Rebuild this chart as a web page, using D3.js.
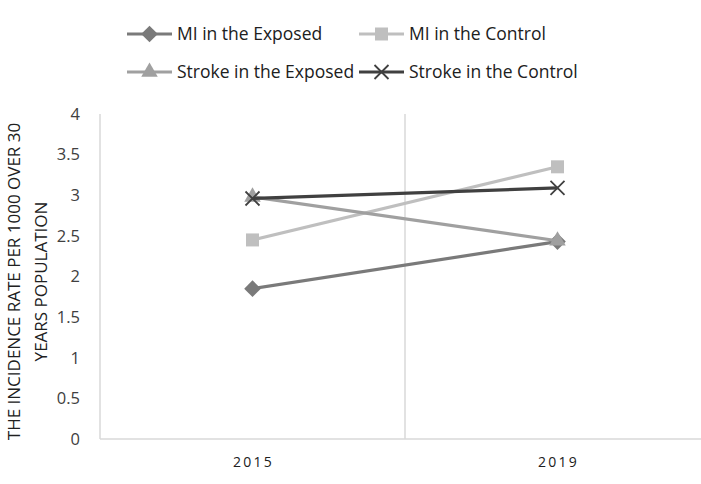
<!DOCTYPE html>
<html><head><meta charset="utf-8">
<script src="https://cdn.jsdelivr.net/npm/d3@7"></script>
<style>body{margin:0;background:#fff}svg{display:block}</style>
</head><body>
<svg id="c" width="701" height="484"></svg>
<script>
const categories = ["2015", "2019"];
const miExposed = [1.85, 2.43];
const miControl = [2.45, 3.35];
const strokeExposed = [2.98, 2.44];
const strokeControl = [2.96, 3.09];
const yTicks = [0, 0.5, 1, 1.5, 2, 2.5, 3, 3.5, 4];
const seriesNames = ["MI in the Exposed", "MI in the Control", "Stroke in the Exposed", "Stroke in the Control"];

const series = [
  {name: seriesNames[0], values: miExposed, color: "#7a7a7a", marker: "diamond"},
  {name: seriesNames[1], values: miControl, color: "#bfbfbf", marker: "square"},
  {name: seriesNames[2], values: strokeExposed, color: "#a0a0a0", marker: "triangle"},
  {name: seriesNames[3], values: strokeControl, color: "#404040", marker: "x"}
];

const svg = d3.select("#c");
const font = "'Open Sans', 'Liberation Sans', sans-serif";
const pLeft = 100, pRight = 710, pTop = 114, pBottom = 439;

const x = d3.scaleBand().domain(categories).range([pLeft, pRight]);
const y = d3.scaleLinear().domain([0, 4]).range([pBottom, pTop]);

// axes lines
svg.append("line").attr("x1", pLeft).attr("x2", 701).attr("y1", pBottom).attr("y2", pBottom)
  .attr("stroke", "#d9d9d9").attr("stroke-width", 1.5);
svg.append("line").attr("x1", pLeft).attr("x2", pLeft).attr("y1", pTop).attr("y2", pBottom)
  .attr("stroke", "#d9d9d9").attr("stroke-width", 1.5);
// category separator
categories.slice(1).forEach(c => {
  svg.append("line").attr("x1", x(c)).attr("x2", x(c)).attr("y1", pTop).attr("y2", pBottom)
    .attr("stroke", "#d9d9d9").attr("stroke-width", 1.5);
});

// y tick labels
svg.append("g").selectAll("text").data(yTicks).join("text")
  .attr("x", 80).attr("y", d => y(d)).attr("dy", "0.35em")
  .attr("text-anchor", "end").attr("font-family", font).attr("font-size", 16.5)
  .attr("fill", "#404040").text(d => d3.format("")(d));

// x tick labels
svg.append("g").selectAll("text").data(categories).join("text")
  .attr("x", d => x(d) + x.bandwidth() / 2 + 1).attr("y", 467)
  .attr("text-anchor", "middle").attr("font-family", font).attr("font-size", 14)
  .attr("letter-spacing", "2.2px")
  .attr("fill", "#202020").text(d => d);

// y axis title
const yt = svg.append("text").attr("transform", `translate(0,${(pTop + pBottom) / 2 + 5}) rotate(-90)`)
  .attr("text-anchor", "middle").attr("font-family", font).attr("font-size", 17).attr("fill", "#202020");
yt.append("tspan").attr("x", 0).attr("y", 20).text("THE INCIDENCE RATE PER 1000 OVER 30");
yt.append("tspan").attr("x", 0).attr("y", 47).text("YEARS POPULATION");

function drawMarker(g, type, cx, cy, color, s) {
  if (type === "diamond") {
    g.append("path").attr("d", d3.symbol(d3.symbolDiamond2, s * s * 0.9)())
      .attr("transform", `translate(${cx},${cy})`).attr("fill", color);
  } else if (type === "square") {
    g.append("rect").attr("x", cx - s / 2).attr("y", cy - s / 2).attr("width", s).attr("height", s).attr("fill", color);
  } else if (type === "triangle") {
    g.append("path").attr("d", d3.symbol(d3.symbolTriangle, s * s * 0.6)())
      .attr("transform", `translate(${cx},${cy})`).attr("fill", color);
  } else {
    const h = s / 2;
    g.append("path").attr("d", `M${cx - h},${cy - h}L${cx + h},${cy + h}M${cx - h},${cy + h}L${cx + h},${cy - h}`)
      .attr("stroke", color).attr("stroke-width", 1.8).attr("fill", "none");
  }
}

const line = d3.line().x((d, i) => x(categories[i]) + x.bandwidth() / 2).y(d => y(d));
series.forEach(s => {
  const g = svg.append("g");
  g.append("path").attr("d", line(s.values)).attr("fill", "none").attr("stroke", s.color).attr("stroke-width", 3.2);
  s.values.forEach((v, i) => drawMarker(g, s.marker, x(categories[i]) + x.bandwidth() / 2, y(v), s.color, s.marker === "square" ? 13 : 14));
});

// legend
const legPos = [[127, 34], [359, 34], [127, 72], [359, 72]];
series.forEach((s, i) => {
  const [lx, ly] = legPos[i];
  const g = svg.append("g");
  g.append("line").attr("x1", lx).attr("x2", lx + 45).attr("y1", ly).attr("y2", ly).attr("stroke", s.color).attr("stroke-width", 3.2);
  drawMarker(g, s.marker, lx + 22.5, ly, s.color, s.marker === "square" ? 13 : 14);
  g.append("text").attr("x", lx + 50).attr("y", ly).attr("dy", "0.35em")
    .attr("font-family", font).attr("font-size", 17.5).attr("fill", "#202020").text(s.name);
});
</script>
</body></html>
